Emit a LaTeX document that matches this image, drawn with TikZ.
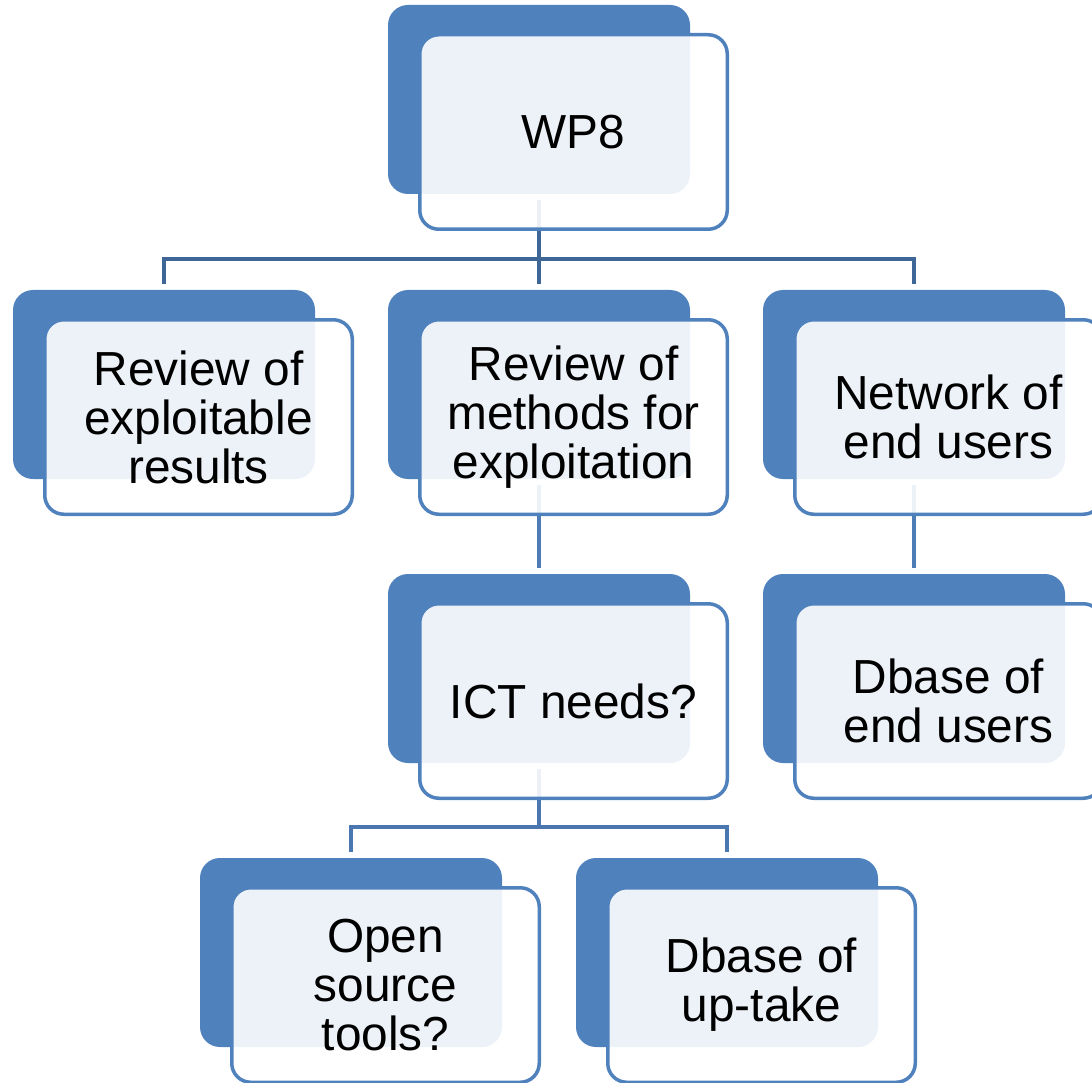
\documentclass[tikz,border=0pt]{standalone}
\usepackage{fontspec}
\setmainfont{Liberation Sans}
\definecolor{accent}{HTML}{4F81BD}
\definecolor{lineA}{HTML}{3E6697}
\definecolor{lineB}{HTML}{4D7CB7}
\definecolor{lineC}{HTML}{4A77B0}
\pgfdeclarelayer{bg}
\pgfsetlayers{bg,main}
\tikzset{
  backbox/.style={fill=accent, draw=none, rounded corners=20pt, minimum width=302pt, minimum height=189pt, inner sep=0pt, outer sep=0pt},
  frontbox/.style={draw=accent, line width=3.5pt, fill=white, fill opacity=0.9, text opacity=1, rounded corners=19pt, minimum width=307.5pt, minimum height=194.5pt, inner sep=0pt, outer sep=0pt, align=center, font=\fontsize{47.8}{49}\selectfont},
  conn/.style={line width=4.5pt},
}
\begin{document}
\begin{tikzpicture}[x=1pt,y=-1pt]
\useasboundingbox (0,0) rectangle (1092,1083);
% WP8
\node[backbox] (wp8b) at (539,99.5) {};
\node[frontbox] (wp8) at (573.5,132) {WP8};
% row 2
\node[backbox] (r1b) at (164,384.5) {};
\node[frontbox] (r1) at (198.5,417) {Review of\\exploitable\\results};
\node[backbox] (r2b) at (539,384.5) {};
\node[frontbox] (r2) at (573.5,417) {Review of\\methods for\\exploitation};
\node[backbox] (netb) at (914,384.5) {};
\node[frontbox] (net) at (948.5,417) {Network of\\end users};
% row 3
\node[backbox] (ictb) at (539,668.5) {};
\node[frontbox] (ict) at (573.5,701) {ICT needs?};
\node[backbox] (dbeub) at (914,668.5) {};
\node[frontbox] (dbeu) at (948.5,701) {Dbase of\\end users};
% row 4
\node[backbox] (openb) at (351,952.5) {};
\node[frontbox] (open) at (385.5,985) {Open\\source\\tools?};
\node[backbox] (upb) at (727,952.5) {};
\node[frontbox] (up) at (761.5,985) {Dbase of\\up-take};
% connectors
\coordinate (j1) at (539,259);
\coordinate (j2) at (539,827);
\begin{pgfonlayer}{bg}
\draw[conn, draw=lineA] ([yshift=-6pt]wp8b.south) -- ([yshift=6pt]r2b.north);
\draw[conn, draw=lineA] ([yshift=6pt]r1b.north) -- (r1b.north |- j1) -- (netb.north |- j1) -- ([yshift=6pt]netb.north);
\draw[conn, draw=lineB] ([yshift=-6pt]r2b.south) -- ([yshift=6pt]ictb.north);
\draw[conn, draw=lineB] ([yshift=-6pt]netb.south) -- ([yshift=6pt]dbeub.north);
\draw[conn, draw=lineC] ([yshift=-6pt]ictb.south) -- (j2);
\draw[conn, draw=lineC] ([yshift=6pt]openb.north) -- (openb.north |- j2) -- (upb.north |- j2) -- ([yshift=6pt]upb.north);
\end{pgfonlayer}
\end{tikzpicture}
\end{document}
